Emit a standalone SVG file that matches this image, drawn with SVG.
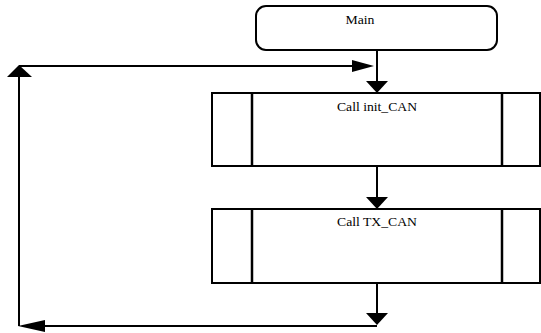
<svg xmlns="http://www.w3.org/2000/svg" width="541" height="333" viewBox="0 0 541 333">
  <style>
    .box { fill: #fff; stroke: #000; stroke-width: 2; }
    .bar { stroke: #000; stroke-width: 2.5; }
    .wire { fill: none; stroke: #000; stroke-width: 2; }
    .head { fill: #000; stroke: none; }
    .lbl { font-family: "Liberation Serif", "Times New Roman", serif; font-size: 12px; fill: #000; text-anchor: middle; }
  </style>
  <rect width="541" height="333" fill="#fff"/>

  <g id="main">
    <rect class="box" x="256" y="6" width="241" height="44" rx="10" ry="10"/>
    <text class="lbl" x="360" y="24" textLength="29" lengthAdjust="spacingAndGlyphs">Main</text>
  </g>

  <g id="call-init-can">
    <rect class="box" x="212" y="93" width="328" height="73"/>
    <line class="bar" x1="252" y1="93" x2="252" y2="166"/>
    <line class="bar" x1="502" y1="93" x2="502" y2="166"/>
    <text class="lbl" x="377" y="111" textLength="80" lengthAdjust="spacingAndGlyphs">Call init_CAN</text>
  </g>

  <g id="call-tx-can">
    <rect class="box" x="212" y="209" width="328" height="74"/>
    <line class="bar" x1="252" y1="209" x2="252" y2="283"/>
    <line class="bar" x1="502" y1="209" x2="502" y2="283"/>
    <text class="lbl" x="377" y="226" textLength="80" lengthAdjust="spacingAndGlyphs">Call TX_CAN</text>
  </g>

  <g id="connectors">
    <!-- Main -> init_CAN -->
    <line class="wire" x1="377" y1="50" x2="377" y2="84"/>
    <polygon class="head" points="366,81 388,81 377,93"/>
    <!-- init_CAN -> TX_CAN -->
    <line class="wire" x1="377" y1="166" x2="377" y2="199"/>
    <polygon class="head" points="366,197 388,197 377,209"/>
    <!-- TX_CAN -> loop back -->
    <line class="wire" x1="377" y1="283" x2="377" y2="316"/>
    <polygon class="head" points="366,313 388,313 377,325"/>
    <line class="wire" x1="377" y1="326" x2="40" y2="326"/>
    <polygon class="head" points="45,320 18,326 45,332"/>
    <line class="wire" x1="19" y1="326" x2="19" y2="74"/>
    <polygon class="head" points="7,77 19,65 32,77"/>
    <line class="wire" x1="19" y1="66" x2="356" y2="66"/>
    <polygon class="head" points="352,60 374,66 352,72"/>
  </g>
</svg>
